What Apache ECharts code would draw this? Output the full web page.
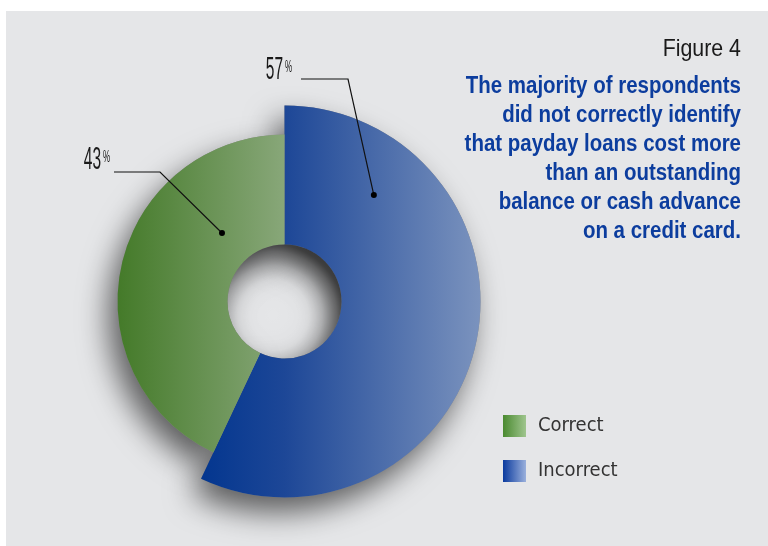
<!DOCTYPE html>
<html>
<head>
<meta charset="utf-8">
<script src="https://cdn.jsdelivr.net/npm/echarts@6/dist/echarts.min.js"></script>
<style>
  html, body { margin: 0; padding: 0; background: #ffffff; }
  #chart { width: 768px; height: 546px; }
</style>
</head>
<body>
<div id="chart"></div>
<script>
// Survey answers: share of respondents (%)
const categories = ['Incorrect', 'Correct'];
const shares = [57, 43];
const figureLabel = 'Figure 4';
const headline = [
  'The majority of respondents',
  'did not correctly identify',
  'that payday loans cost more',
  'than an outstanding',
  'balance or cash advance',
  'on a credit card.'
];

const SANS = '"Liberation Sans", Arial, sans-serif';
const CONDENSED = '"DejaVu Sans Condensed", "Liberation Sans", sans-serif';
const center = [284.5, 301.5];
const innerR = 57;
const outerR = { Incorrect: 196, Correct: 167 };

const grad = (stops) => new echarts.graphic.LinearGradient(0, 0, 1, 0,
  stops.map((c, i) => ({ offset: i / (stops.length - 1), color: c })));
const fills = {
  Incorrect: new echarts.graphic.LinearGradient(0, 0, 1, 0, [
    { offset: 0, color: '#03368f' }, { offset: 0.3, color: '#1d4797' }, { offset: 1, color: '#7b93be' }
  ]),
  Correct: grad(['#447a29', '#88a779'])
};
const legendFills = {
  Incorrect: grad(['#0a3a9e', '#9ab0dc']),
  Correct: grad(['#4a8a30', '#9fc58e'])
};
const hidden = { color: 'rgba(0,0,0,0)', borderWidth: 0 };

// one ring per category, each ring only paints its own slice
function ring(name, withShadow) {
  return {
    type: 'pie',
    silent: true,
    animation: false,
    center: center,
    radius: [innerR, outerR[name]],
    startAngle: 90,
    clockwise: true,
    label: { show: false },
    labelLine: { show: false },
    emphasis: { disabled: true },
    data: categories.map((c, i) => ({
      name: c,
      value: shares[i],
      itemStyle: c === name
        ? (withShadow
            ? { color: '#888', borderWidth: 0, shadowBlur: 30, shadowColor: 'rgba(0,0,0,0.6)', shadowOffsetX: -9, shadowOffsetY: 15 }
            : { color: fills[c], borderWidth: 0 })
        : hidden
    }))
  };
}

// soft shading on the wall of the centre hole
const holeShade = {
  type: 'pie',
  silent: true,
  animation: false,
  center: center,
  radius: [0, innerR],
  label: { show: false },
  labelLine: { show: false },
  emphasis: { disabled: true },
  data: [{
    name: 'hole', value: 1,
    itemStyle: {
      borderWidth: 0,
      color: new echarts.graphic.RadialGradient(0.4, 0.62, 0.62, [
        { offset: 0, color: 'rgba(0,0,0,0)' },
        { offset: 0.5, color: 'rgba(0,0,0,0.015)' },
        { offset: 0.7, color: 'rgba(0,0,0,0.09)' },
        { offset: 0.9, color: 'rgba(0,0,0,0.28)' },
        { offset: 1, color: 'rgba(0,0,0,0.45)' }
      ])
    }
  }]
};

// point inside the ring: degrees clockwise from 12 o'clock, radius in px
function polar(deg, r) {
  const a = deg * Math.PI / 180;
  return [center[0] + r * Math.sin(a), center[1] - r * Math.cos(a)];
}

// leader lines: anchor dot in the slice, elbow, end, and value text placement
const leaders = [
  { name: 'Incorrect', dot: polar(40, 139), elbow: [348, 79], end: [301, 79], numRight: 283, numMid: 70, pctRight: 292, pctTop: 60 },
  { name: 'Correct', dot: polar(317.6, 92.7), elbow: [160, 172], end: [114, 172], numRight: 101, numMid: 160.5, pctRight: 110, pctTop: 150 }
];

const graphics = [
  { type: 'rect', z: -10, silent: true, shape: { x: 6, y: 11, width: 762, height: 535 }, style: { fill: '#e5e6e8' } },
  { type: 'text', z: 100, silent: true, x: 741, y: 49, scaleX: 0.89,
    style: { text: figureLabel, fontSize: 24, fontFamily: SANS, fill: '#1a1a1a', align: 'right', verticalAlign: 'middle' } }
];
headline.forEach((line, i) => {
  graphics.push({ type: 'text', z: 100, silent: true, x: 741, y: 87 + 29 * i, scaleX: 0.89,
    style: { text: line, fontSize: 23, fontWeight: 'bold', fontFamily: SANS, fill: '#0c3d9e', align: 'right', verticalAlign: 'middle' } });
});
leaders.forEach(l => {
  const v = shares[categories.indexOf(l.name)];
  graphics.push(
    { type: 'polyline', z: 100, silent: true, shape: { points: [l.dot, l.elbow, l.end] }, style: { stroke: '#111', lineWidth: 1.2, fill: null } },
    { type: 'circle', z: 101, silent: true, shape: { cx: l.dot[0], cy: l.dot[1], r: 3 }, style: { fill: '#000' } },
    { type: 'text', z: 100, silent: true, x: l.numRight, y: l.numMid, scaleX: 0.5,
      style: { text: String(v), fontSize: 31, fontFamily: SANS, fill: '#1a1a1a', align: 'right', verticalAlign: 'middle' } },
    { type: 'text', z: 100, silent: true, x: l.pctRight, y: l.pctTop, scaleX: 0.5,
      style: { text: '%', fontSize: 16, fontFamily: SANS, fill: '#1a1a1a', align: 'right', verticalAlign: 'top' } }
  );
});

const chart = echarts.init(document.getElementById('chart'), null, { renderer: 'canvas' });
chart.setOption({
  backgroundColor: '#ffffff',
  animation: false,
  legend: {
    orient: 'vertical', left: 503, top: 415, padding: 0,
    itemWidth: 23, itemHeight: 22, itemGap: 23, icon: 'rect',
    selectedMode: false,
    textStyle: { fontSize: 20, color: '#333', fontFamily: CONDENSED, padding: [6, 0, 0, 7] },
    data: [
      { name: 'Correct', itemStyle: { color: legendFills.Correct } },
      { name: 'Incorrect', itemStyle: { color: legendFills.Incorrect } }
    ]
  },
  graphic: graphics,
  series: [
    ring('Incorrect', true),
    ring('Correct', true),
    ring('Incorrect', false),
    ring('Correct', false),
    holeShade
  ]
});
</script>
</body>
</html>
